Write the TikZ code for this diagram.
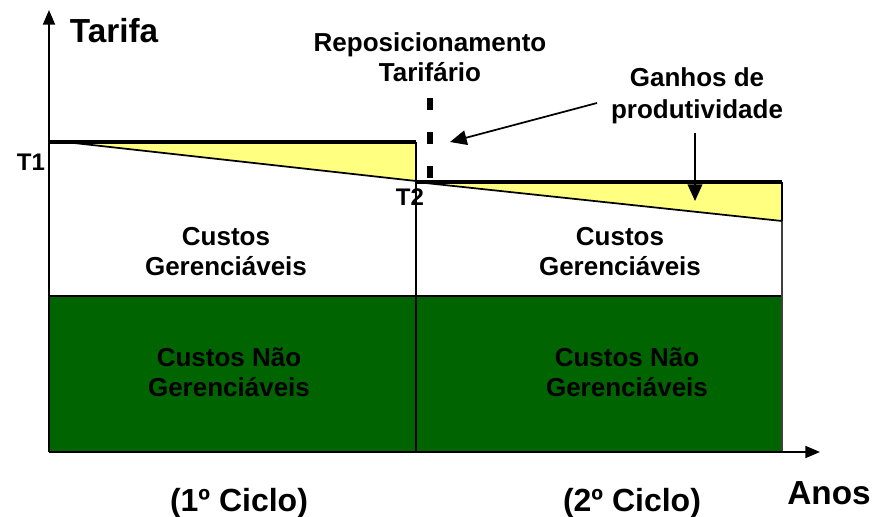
\documentclass[tikz,border=0pt]{standalone}
\usepackage{fontspec}
\setmainfont{Liberation Sans}
\usetikzlibrary{arrows.meta}
\definecolor{dkgreen}{RGB}{0,100,0}
\definecolor{lyellow}{RGB}{255,255,128}
\begin{document}
\begin{tikzpicture}[x=0.75pt,y=-0.75pt,
  txt/.style={font=\bfseries\fontsize{19.5}{23}\selectfont, anchor=base, inner sep=0pt},
  big/.style={font=\bfseries\fontsize{25}{30}\selectfont, anchor=base, inner sep=0pt},
  cyc/.style={font=\bfseries\fontsize{24}{28}\selectfont, anchor=base, inner sep=0pt},
  tlab/.style={font=\bfseries\fontsize{18}{22}\selectfont, anchor=base, inner sep=0pt},
  axis/.style={line width=1.5pt, -{Triangle[length=11pt,width=9pt]}},
  pointer/.style={line width=1.3pt, -{Triangle[length=12.5pt,width=11pt]}},
  thickline/.style={line width=2.3pt},
  thinline/.style={line width=0.9pt},
  slope/.style={line width=1.3pt},
  dashedsep/.style={line width=4.4pt, dash pattern=on 9pt off 16.5pt}]
\useasboundingbox (0,0) rectangle (876,517);
% key points
\coordinate (O) at (49,452);
\coordinate (Ytip) at (49,10);
\coordinate (Xtip) at (820,452);
\coordinate (T1a) at (49,142);
\coordinate (T1s) at (65,142);
\coordinate (M1) at (416,142);
\coordinate (M2) at (416,182);
\coordinate (R1) at (782,182);
\coordinate (R2) at (782,221);
\coordinate (G1) at (49,296);
\coordinate (G2) at (782,296);
\coordinate (Gb) at (782,452);
\coordinate (Mb) at (416,452);
\coordinate (Dtop) at (430,98);
\coordinate (Dbot) at (430,182);
% green block
\fill[dkgreen] (G1) rectangle (Gb);
\draw[thinline] (G1) -- (G2);
% right border
\draw[line width=0.8pt, black!75] (R1) -- (Gb);
% yellow triangles
\fill[lyellow] (T1s) -- (M1) -- (416,181) -- cycle;
\fill[lyellow] (M2) -- (R1) -- (R2) -- cycle;
\draw[slope] (T1s) -- (416,181);
\draw[slope] (M2) -- (R2);
\draw[thickline] (T1a) -- (M1);
\draw[thickline] (M2) -- (R1);
\draw[line width=1.6pt] (R1) -- (R2);
% divider
\draw[line width=1.3pt] (M1) -- (Mb);
% dashed line
\draw[dashedsep] (Dtop) -- (Dbot);
% axes
\draw[axis] (O) -- (Ytip);
\draw[axis] (O) -- (Xtip);
% labels
\node[big] (tarifa) at (114,43) {Tarifa};
\node[big] (anos) at (829,504) {Anos};
\node[txt] (rep1) at (430,52) {Reposicionamento};
\node[txt] (rep2) at (430,82) {Tarifário};
\node[txt] (gan1) at (697,87) {Ganhos de};
\node[txt] (gan2) at (697,118) {produtividade};
\node[tlab] (t1) at (31,171) {T1};
\node[tlab] (t2) at (410,205) {T2};
\node[txt] (cg1a) at (226,245) {Custos};
\node[txt] (cg1b) at (226,276) {Gerenciáveis};
\node[txt] (cg2a) at (620,245) {Custos};
\node[txt] (cg2b) at (620,276) {Gerenciáveis};
\node[txt] (cn1a) at (229,366) {Custos Não};
\node[txt] (cn1b) at (229,396) {Gerenciáveis};
\node[txt] (cn2a) at (627,366) {Custos Não};
\node[txt] (cn2b) at (627,396) {Gerenciáveis};
\node[cyc] (c1) at (239,511) {(1º Ciclo)};
\node[cyc] (c2) at (632,511) {(2º Ciclo)};
% pointers
\coordinate (p1s) at (597,103);
\coordinate (p1e) at (450,142);
\coordinate (p2s) at (695,133);
\coordinate (p2e) at (695,201);
\draw[pointer] (p1s) -- (p1e);
\draw[pointer] (p2s) -- (p2e);
\end{tikzpicture}
\end{document}
